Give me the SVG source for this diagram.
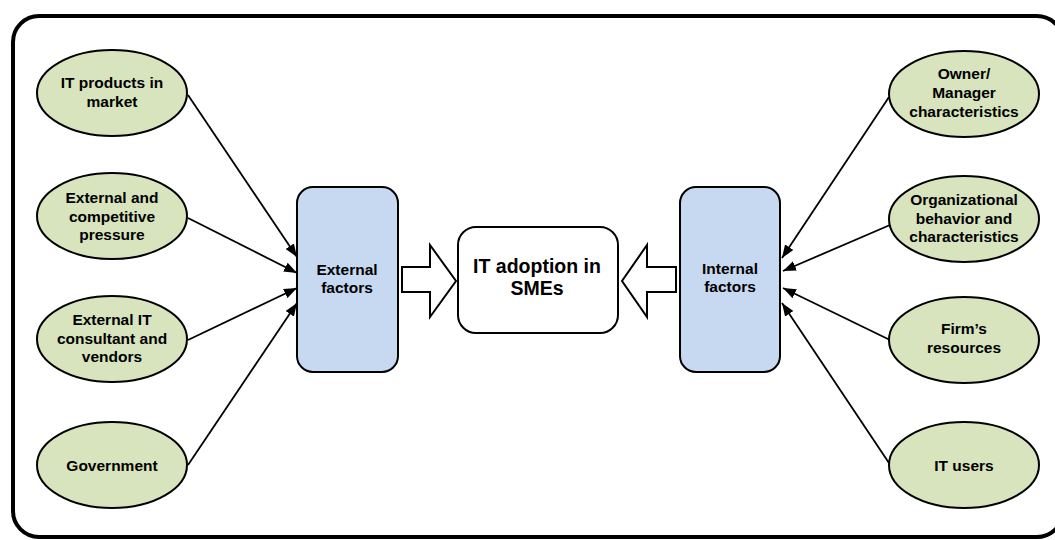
<svg xmlns="http://www.w3.org/2000/svg" width="1055" height="540" viewBox="0 0 1055 540">
<defs>
<style>
.frame{fill:none;stroke:#000;stroke-width:4}
.ell{fill:#d7e4bd;stroke:#000;stroke-width:2}
.box{fill:#c6d9f1;stroke:#000;stroke-width:2}
.main{fill:#fff;stroke:#000;stroke-width:2}
.barrow{fill:#fff;stroke:#000;stroke-width:2;stroke-linejoin:miter}
.conn{stroke:#000;stroke-width:1.8;fill:none}
text{font-family:"Liberation Sans",Arial,sans-serif;font-weight:bold;fill:#000;text-anchor:middle}
.t{font-size:15.5px}
.tc{font-size:19.5px}
</style>
<marker id="ah" viewBox="0 0 13 10" refX="13" refY="5" markerWidth="13" markerHeight="10" markerUnits="userSpaceOnUse" orient="auto">
<path d="M0,0 L13,5 L0,10 Z" fill="#000"/>
</marker>
</defs>
<rect class="frame" x="13" y="16" width="1050" height="521" rx="26"/>
<g id="connectors">
<line class="conn" x1="188" y1="95" x2="297" y2="257" marker-end="url(#ah)"/>
<line class="conn" x1="188" y1="218" x2="297" y2="273" marker-end="url(#ah)"/>
<line class="conn" x1="188" y1="340" x2="297" y2="288" marker-end="url(#ah)"/>
<line class="conn" x1="188" y1="465" x2="297" y2="303" marker-end="url(#ah)"/>
<line class="conn" x1="889" y1="97" x2="782" y2="258" marker-end="url(#ah)"/>
<line class="conn" x1="890" y1="225" x2="783" y2="271" marker-end="url(#ah)"/>
<line class="conn" x1="890" y1="340" x2="783" y2="288" marker-end="url(#ah)"/>
<line class="conn" x1="889" y1="463" x2="782" y2="303" marker-end="url(#ah)"/>
<path class="barrow" d="M402,267 L430,267 L430,245 L456,281 L430,317 L430,292 L402,292 Z"/>
<path class="barrow" d="M676,267 L647,267 L647,245 L622,281 L647,317 L647,292 L676,292 Z"/>
</g>
<g id="n-itproducts">
<ellipse class="ell" cx="112" cy="93" rx="75" ry="43"/>
<text class="t" x="112" y="88">IT products in</text>
<text class="t" x="112" y="107">market</text>
</g>
<g id="n-extpressure">
<ellipse class="ell" cx="112" cy="216" rx="75" ry="43"/>
<text class="t" x="112" y="203">External and</text>
<text class="t" x="112" y="222">competitive</text>
<text class="t" x="112" y="240">pressure</text>
</g>
<g id="n-extconsultant">
<ellipse class="ell" cx="112" cy="339" rx="75" ry="43"/>
<text class="t" x="112" y="325">External IT</text>
<text class="t" x="112" y="344">consultant and</text>
<text class="t" x="112" y="362">vendors</text>
</g>
<g id="n-government">
<ellipse class="ell" cx="112" cy="465" rx="75" ry="43"/>
<text class="t" x="112" y="471">Government</text>
</g>
<g id="n-owner">
<ellipse class="ell" cx="964" cy="94" rx="75" ry="43"/>
<text class="t" x="964" y="79">Owner/</text>
<text class="t" x="964" y="98">Manager</text>
<text class="t" x="964" y="117">characteristics</text>
</g>
<g id="n-org">
<ellipse class="ell" cx="964" cy="219" rx="75" ry="43"/>
<text class="t" x="964" y="205">Organizational</text>
<text class="t" x="964" y="224">behavior and</text>
<text class="t" x="964" y="242">characteristics</text>
</g>
<g id="n-firm">
<ellipse class="ell" cx="964" cy="340" rx="75" ry="43"/>
<text class="t" x="964" y="334">Firm’s</text>
<text class="t" x="964" y="353">resources</text>
</g>
<g id="n-itusers">
<ellipse class="ell" cx="964" cy="465" rx="75" ry="43"/>
<text class="t" x="964" y="471">IT users</text>
</g>
<g id="n-external">
<rect class="box" x="297" y="187" width="101" height="185" rx="16"/>
<text class="t" x="347" y="275">External</text>
<text class="t" x="347" y="293">factors</text>
</g>
<g id="n-internal">
<rect class="box" x="680" y="187" width="100" height="185" rx="16"/>
<text class="t" x="730" y="274">Internal</text>
<text class="t" x="730" y="292">factors</text>
</g>
<g id="n-center">
<rect class="main" x="458" y="227" width="160" height="106" rx="18"/>
<text class="tc" x="537" y="273">IT adoption in</text>
<text class="tc" x="537" y="295">SMEs</text>
</g>
</svg>
